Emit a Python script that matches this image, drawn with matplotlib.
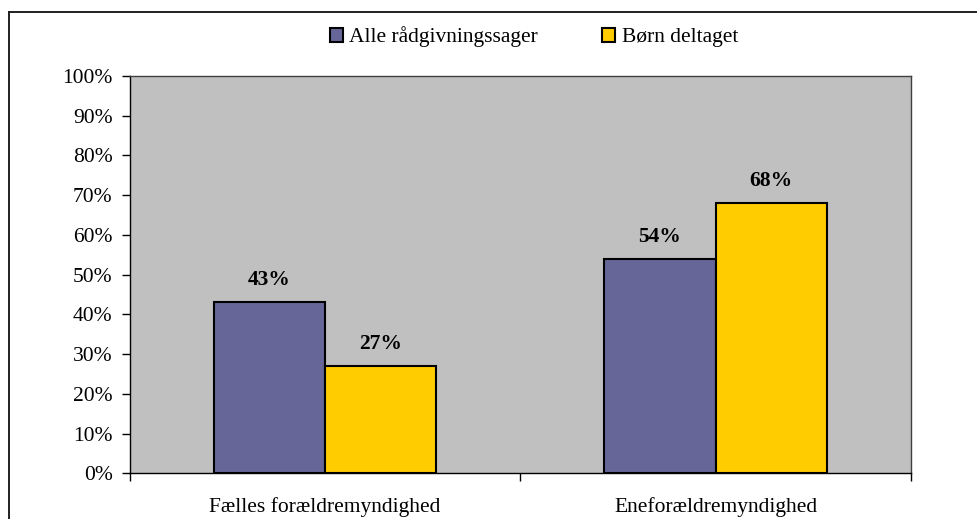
import numpy as np
import matplotlib
matplotlib.use("Agg")
import matplotlib.pyplot as plt
from matplotlib.lines import Line2D

categories = ["Fælles forældremyndighed", "Eneforældremyndighed"]
series_names = ["Alle rådgivningssager", "Børn deltaget"]
alle = [43, 54]
born = [27, 68]
yticks = [0, 10, 20, 30, 40, 50, 60, 70, 80, 90, 100]

colors = ["#666699", "#FFCC00"]

plt.rcParams['font.family'] = ['Liberation Serif', 'DejaVu Serif']

fig = plt.figure(figsize=(9.78, 5.19), dpi=100)
ax = fig.add_axes([130 / 978, 1 - 473.3 / 519, (910.7 - 130) / 978, (473.3 - 76) / 519])
ax.set_facecolor("#C0C0C0")

x = np.arange(len(categories))
w = 0.285
bars1 = ax.bar(x - w / 2, alle, w, color=colors[0], edgecolor="black", linewidth=1.5,
               label=series_names[0])
bars2 = ax.bar(x + w / 2, born, w, color=colors[1], edgecolor="black", linewidth=1.5,
               label=series_names[1])

for bars, vals in [(bars1, alle), (bars2, born)]:
    for b, v in zip(bars, vals):
        ax.annotate(f"{v}%", (b.get_x() + b.get_width() / 2, v), xytext=(0, 16),
                    textcoords="offset points", ha="center", va="center",
                    fontsize=15.5, fontweight="bold")

ax.set_xlim(-0.5, 1.5)
ax.set_ylim(0, 100)
ax.set_yticks(yticks)
ax.set_yticklabels([f"{t}%" for t in yticks], fontsize=15.5)
ax.tick_params(axis="y", direction="out", length=5.5, width=1, pad=7)

ax.set_xticks(x)
ax.set_xticklabels(categories, fontsize=15.5)
ax.tick_params(axis="x", which="major", length=0, pad=17)
ax.set_xticks([-0.5, 0.5, 1.5], minor=True)
ax.tick_params(axis="x", which="minor", direction="out", length=6, width=1)

for s in ["top", "right"]:
    ax.spines[s].set_color("#404040")
    ax.spines[s].set_linewidth(1)
for s in ["left", "bottom"]:
    ax.spines[s].set_color("black")
    ax.spines[s].set_linewidth(1)

fig.legend(loc="center", bbox_to_anchor=(534 / 978, 1 - 37 / 519), ncol=2, frameon=False,
           fontsize=15.5, handlelength=0.6, handleheight=0.6, handletextpad=0.3,
           columnspacing=3.0, borderaxespad=0)

# outer frame (cut off at right and bottom)
fx = 8.5 / 978
fy = 1 - 11.5 / 519
fig.add_artist(Line2D([fx, fx], [0, fy], transform=fig.transFigure, color="#202020", lw=1.4))
fig.add_artist(Line2D([fx, 1], [fy, fy], transform=fig.transFigure, color="#202020", lw=1.4))

fig.savefig("out.png", dpi=100)
